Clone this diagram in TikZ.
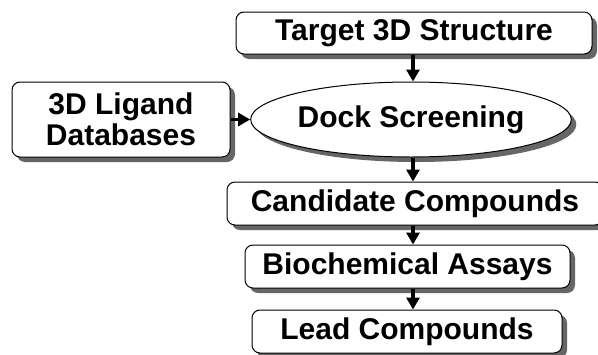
\documentclass[tikz,border=0pt]{standalone}
\usepackage{fontspec}
\setmainfont{Liberation Sans}
\usetikzlibrary{shapes.geometric,shadows,arrows.meta}
\begin{document}
\begin{tikzpicture}[x=1pt,y=-1pt,
  shad/.style={drop shadow={shadow xshift=5pt,shadow yshift=-5pt,fill=black!60,opacity=1}},
  stepbox/.style={draw=black,line width=1pt,fill=white,rounded corners=8pt,shad,
    inner sep=0pt,align=center,font=\fontsize{30}{31}\selectfont\bfseries},
  ovalbox/.style={draw=black,line width=1pt,fill=white,ellipse,shad,inner sep=0pt,
    font=\fontsize{30}{31}\selectfont\bfseries},
  arr/.style={line width=3.5pt,-{Triangle[width=13pt,length=12pt]}}]
\useasboundingbox (0,0) rectangle (598,354);
\node[stepbox,minimum width=356pt,minimum height=42pt] (target) at (414,33) {Target 3D Structure};
\node[ovalbox,minimum width=297pt,minimum height=75pt] (dock) at (411,119.5) {Dock Screening};
\node[stepbox,minimum width=218pt,minimum height=75pt] (lig) at (121,119.5) {3D Ligand\\Databases};
\node[stepbox,minimum width=376pt,minimum height=43pt] (cand) at (415,203.5) {Candidate Compounds};
\node[stepbox,minimum width=325pt,minimum height=43pt] (bio) at (407.5,266.5) {Biochemical Assays};
\node[stepbox,minimum width=310pt,minimum height=43pt] (lead) at (407,331.5) {Lead Compounds};
\coordinate (ax) at (413,0);
\draw[arr] (target.south -| ax) -- (dock.north -| ax);
\draw[arr] (dock.south -| ax) -- (cand.north -| ax);
\draw[arr] (cand.south -| ax) -- (bio.north -| ax);
\draw[arr] (bio.south -| ax) -- (lead.north -| ax);
\draw[arr] (lig.east) -- (dock.west);
\end{tikzpicture}
\end{document}
